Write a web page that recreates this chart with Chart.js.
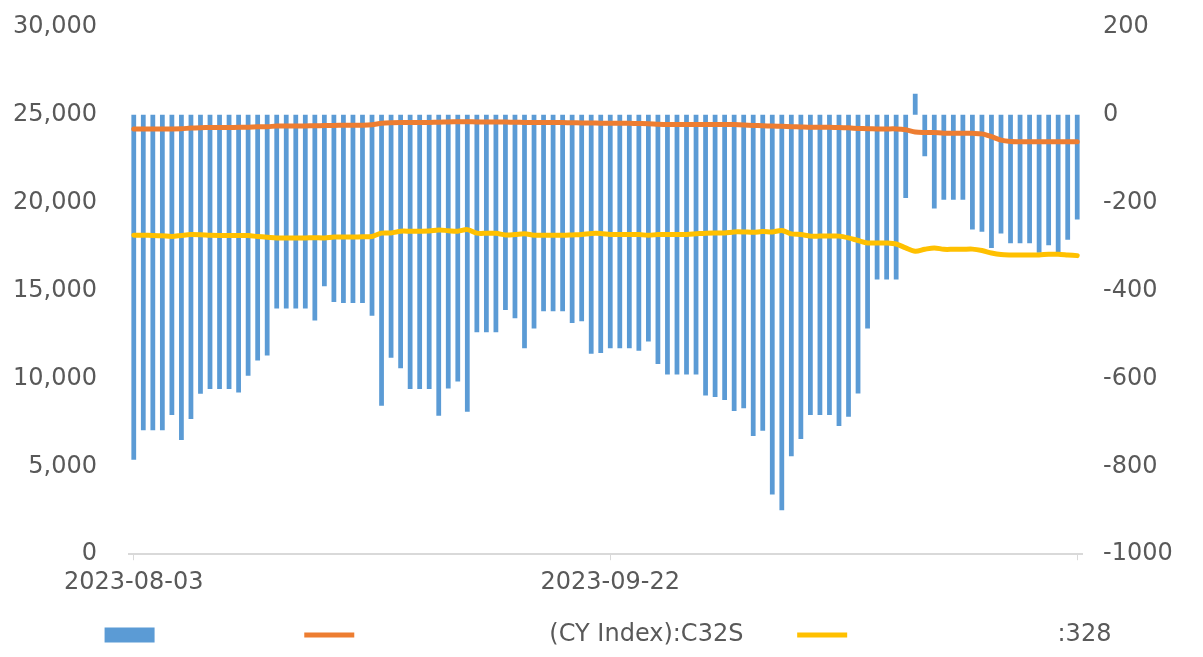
<!DOCTYPE html>
<html>
<head>
<meta charset="utf-8">
<script src="https://cdn.jsdelivr.net/npm/chart.js@4.4.0/dist/chart.umd.min.js"></script>
<style>
  html, body { margin: 0; padding: 0; background: #fff; }
  #wrap { width: 1203px; height: 657px; }
</style>
</head>
<body>
<div id="wrap"><canvas id="myChart"></canvas></div>
<script>
// Datos: una fecha por dia desde 2023-08-03
const fechas = [];
for (let i = 0; i < 100; i++) {
  const d = new Date(Date.UTC(2023, 7, 3 + i));
  fechas.push(d.toISOString().slice(0, 10));
}

// barras (eje derecho)
const spread = [
  -785, -718, -718, -718, -683, -740, -692, -635, -624, -624,
  -624, -632, -594, -559, -548, -441, -441, -441, -441, -468,
  -390, -426, -428, -428, -428, -457, -662, -553, -577, -624,
  -624, -624, -685, -623, -607, -676, -495, -495, -495, -444,
  -463, -531, -486, -447, -447, -447, -474, -470, -544, -542,
  -531, -531, -531, -537, -516, -567, -591, -591, -591, -591,
  -639, -642, -649, -674, -668, -731, -719, -864, -900, -777,
  -738, -683, -683, -683, -708, -687, -634, -486, -375, -375,
  -375, -189, 48, -94, -213, -193, -193, -193, -261, -266,
  -303, -270, -292, -292, -292, -314, -297, -312, -284, -238
];

// linea naranja (eje izquierdo)
const indiceC32S = [
  24200, 24200, 24200, 24200, 24200, 24210, 24250, 24270, 24280, 24280,
  24280, 24290, 24300, 24320, 24330, 24360, 24370, 24370, 24370, 24380,
  24390, 24400, 24410, 24410, 24410, 24440, 24520, 24550, 24560, 24560,
  24570, 24570, 24580, 24600, 24610, 24610, 24600, 24600, 24600, 24590,
  24580, 24570, 24570, 24560, 24560, 24560, 24550, 24540, 24540, 24530,
  24520, 24520, 24520, 24510, 24500, 24470, 24450, 24450, 24450, 24450,
  24450, 24450, 24450, 24450, 24430, 24400, 24380, 24360, 24350, 24330,
  24310, 24290, 24290, 24290, 24280, 24260, 24230, 24210, 24200, 24200,
  24200, 24150, 24030, 24000, 23990, 23960, 23960, 23960, 23950, 23920,
  23760, 23560, 23480, 23470, 23470, 23470, 23470, 23470, 23470, 23470
];

// linea amarilla (eje izquierdo)
const indice328 = [
  18150, 18150, 18140, 18120, 18080, 18140, 18190, 18180, 18150, 18140,
  18140, 18140, 18130, 18080, 18040, 18000, 18000, 18000, 18000, 18010,
  18000, 18050, 18050, 18050, 18060, 18080, 18270, 18280, 18380, 18380,
  18380, 18390, 18450, 18410, 18380, 18470, 18270, 18260, 18260, 18170,
  18190, 18230, 18150, 18150, 18150, 18150, 18170, 18190, 18250, 18250,
  18190, 18190, 18190, 18190, 18150, 18190, 18190, 18190, 18190, 18230,
  18270, 18280, 18280, 18340, 18340, 18320, 18360, 18340, 18420, 18230,
  18190, 18100, 18100, 18100, 18100, 18000, 17850, 17710, 17710, 17710,
  17650, 17430, 17240, 17350, 17430, 17350, 17350, 17350, 17360, 17280,
  17140, 17050, 17030, 17030, 17030, 17030, 17070, 17070, 17030, 16990
];

// etiquetas de la leyenda (el texto chino no se ve en el original)
const etiquetas = [
  ' '.repeat(17),
  ' '.repeat(24) + '(CY Index):C32S' + ' '.repeat(6),
  ' '.repeat(26) + ':328'
];

const gris = '#595959';
const fuente = { family: 'DejaVu Sans', size: 24 };
Chart.defaults.font.family = 'DejaVu Sans';
Chart.defaults.color = gris;

const ctx = document.getElementById('myChart');

new Chart(ctx, {
  data: {
    labels: fechas,
    datasets: [{
      type: 'bar',
      label: etiquetas[0],
      data: spread,
      yAxisID: 'y1',
      backgroundColor: '#5B9BD5',
      borderWidth: 0,
      barPercentage: 0.5,
      categoryPercentage: 1,
      pointStyle: 'rect',
      order: 2
    }, {
      type: 'line',
      label: etiquetas[1],
      data: indiceC32S,
      yAxisID: 'y',
      borderColor: '#ED7D31',
      backgroundColor: '#ED7D31',
      borderWidth: 5,
      borderCapStyle: 'round',
      borderJoinStyle: 'round',
      pointRadius: 0,
      pointStyle: 'line',
      tension: 0.3,
      order: 1
    }, {
      type: 'line',
      label: etiquetas[2],
      data: indice328,
      yAxisID: 'y',
      borderColor: '#FFC000',
      backgroundColor: '#FFC000',
      borderWidth: 5,
      borderCapStyle: 'round',
      borderJoinStyle: 'round',
      pointRadius: 0,
      pointStyle: 'line',
      tension: 0.3,
      order: 1
    }]
  },
  options: {
    responsive: true,
    maintainAspectRatio: false,
    animation: false,
    layout: {
      padding: { left: 13, right: 0, top: 27, bottom: 0 }
    },
    scales: {
      x: {
        offset: true,
        grid: {
          offset: false,
          drawOnChartArea: false,
          drawTicks: true,
          tickLength: 6,
          color: '#D9D9D9'
        },
        border: { color: '#D9D9D9', width: 2 },
        ticks: {
          autoSkip: false,
          maxRotation: 0,
          padding: 8,
          font: fuente,
          color: gris,
          callback: function (val, i) {
            if (i === 0 || i === 50) return fechas[i];
            if (i === 99) return '';
            return null;
          }
        },
        afterFit: function (s) {
          s.height += 10;
          s.paddingLeft = 0;
          s.paddingRight = 0;
        }
      },
      y: {
        position: 'left',
        min: 0,
        max: 30000,
        grid: { display: false, drawTicks: false },
        border: { display: false },
        ticks: {
          stepSize: 5000,
          padding: 32,
          font: fuente,
          color: gris,
          callback: v => v.toLocaleString('en-US')
        },
        afterFit: function (s) {
          s.width = 116;
          s.paddingTop = 0;
          s.paddingBottom = 0;
        }
      },
      y1: {
        position: 'right',
        min: -1000,
        max: 200,
        grid: { display: false, drawTicks: false },
        border: { display: false },
        ticks: {
          stepSize: 200,
          padding: 21,
          font: fuente,
          color: gris,
          callback: v => String(v)
        },
        afterFit: function (s) {
          s.width = 121;
          s.paddingTop = 0;
          s.paddingBottom = 0;
        }
      }
    },
    plugins: {
      tooltip: { enabled: false },
      legend: {
        position: 'bottom',
        align: 'center',
        labels: {
          usePointStyle: true,
          pointStyleWidth: 50,
          boxHeight: 15,
          padding: 8,
          color: gris,
          font: fuente,
          sort: (a, b) => a.datasetIndex - b.datasetIndex
        }
      }
    }
  }
});
</script>
</body>
</html>
